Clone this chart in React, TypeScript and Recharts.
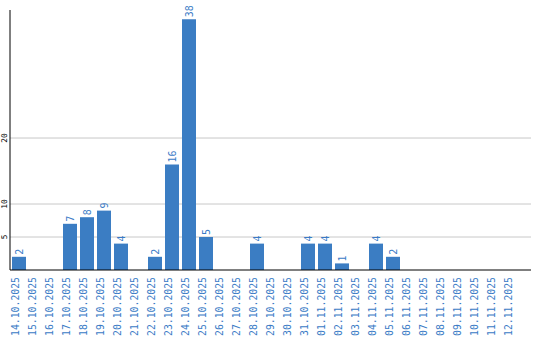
import React from "react";
import { BarChart, Bar, XAxis, YAxis, CartesianGrid, LabelList } from "recharts";

const dates = [
  "14.10.2025", "15.10.2025", "16.10.2025", "17.10.2025", "18.10.2025", "19.10.2025",
  "20.10.2025", "21.10.2025", "22.10.2025", "23.10.2025", "24.10.2025", "25.10.2025",
  "26.10.2025", "27.10.2025", "28.10.2025", "29.10.2025", "30.10.2025", "31.10.2025",
  "01.11.2025", "02.11.2025", "03.11.2025", "04.11.2025", "05.11.2025", "06.11.2025",
  "07.11.2025", "08.11.2025", "09.11.2025", "10.11.2025", "11.11.2025", "12.11.2025",
];
const counts = [2, 0, 0, 7, 8, 9, 4, 0, 2, 16, 38, 5, 0, 0, 4, 0, 0, 4, 4, 1, 0, 4, 2, 0, 0, 0, 0, 0, 0, 0];
const yTicks = [5, 10, 20];

const data = dates.map((d, i) => ({ date: d, value: counts[i] }));

const BLUE = "#3b7dc3";
const LABEL_BLUE = "#3a7bc6";
const MONO = "'DejaVu Sans Mono', 'Liberation Mono', monospace";

const XTick = (props: any) => {
  const { x, y, payload } = props;
  return (
    <text
      x={0}
      y={0}
      transform={`translate(${x},${y + 7}) rotate(-90)`}
      textAnchor="end"
      fill={LABEL_BLUE}
      fontSize={9.8}
      fontFamily={MONO}
    >
      {payload.value}
    </text>
  );
};

const YTick = (props: any) => {
  const { x, y, payload } = props;
  return (
    <text
      x={0}
      y={0}
      transform={`translate(${x - 3},${y}) rotate(-90)`}
      textAnchor="middle"
      fill="#000"
      fontSize={7.8}
      fontFamily={MONO}
    >
      {payload.value}
    </text>
  );
};

const ValueLabel = (props: any) => {
  const { x, y, width, value } = props;
  if (!value) return null;
  const cx = x + width / 2;
  return (
    <text
      x={0}
      y={0}
      transform={`translate(${cx},${y - 2}) rotate(-90)`}
      textAnchor="start"
      dominantBaseline="central"
      fill={LABEL_BLUE}
      fontSize={10}
      fontFamily={MONO}
    >
      {value}
    </text>
  );
};

export default function App() {
  return (
    <div style={{ position: "absolute", left: 0, top: 0, width: 540, height: 340, background: "#fff" }}>
      <BarChart
        width={540}
        height={340}
        data={data}
        margin={{ top: 10, right: 9, bottom: 0, left: 0 }}
        barSize={14}
      >
        <CartesianGrid
          horizontal
          vertical={false}
          horizontalValues={yTicks}
          syncWithTicks={false}
          stroke="#c8c8c8"
          strokeWidth={1}
        />
        <XAxis
          dataKey="date"
          interval={0}
          height={70}
          tickSize={0}
          tickMargin={0}
          tickLine={false}
          axisLine={{ stroke: "#000", strokeWidth: 1 }}
          padding={{ left: 0, right: 11 }}
          tick={<XTick />}
        />
        <YAxis
          width={10}
          domain={[0, 39.4]}
          ticks={yTicks}
          tickSize={0}
          tickMargin={0}
          tickLine={false}
          axisLine={{ stroke: "#000", strokeWidth: 1 }}
          tick={<YTick />}
        />
        <Bar dataKey="value" fill={BLUE} isAnimationActive={false}>
          <LabelList dataKey="value" content={<ValueLabel />} />
        </Bar>
      </BarChart>
    </div>
  );
}
